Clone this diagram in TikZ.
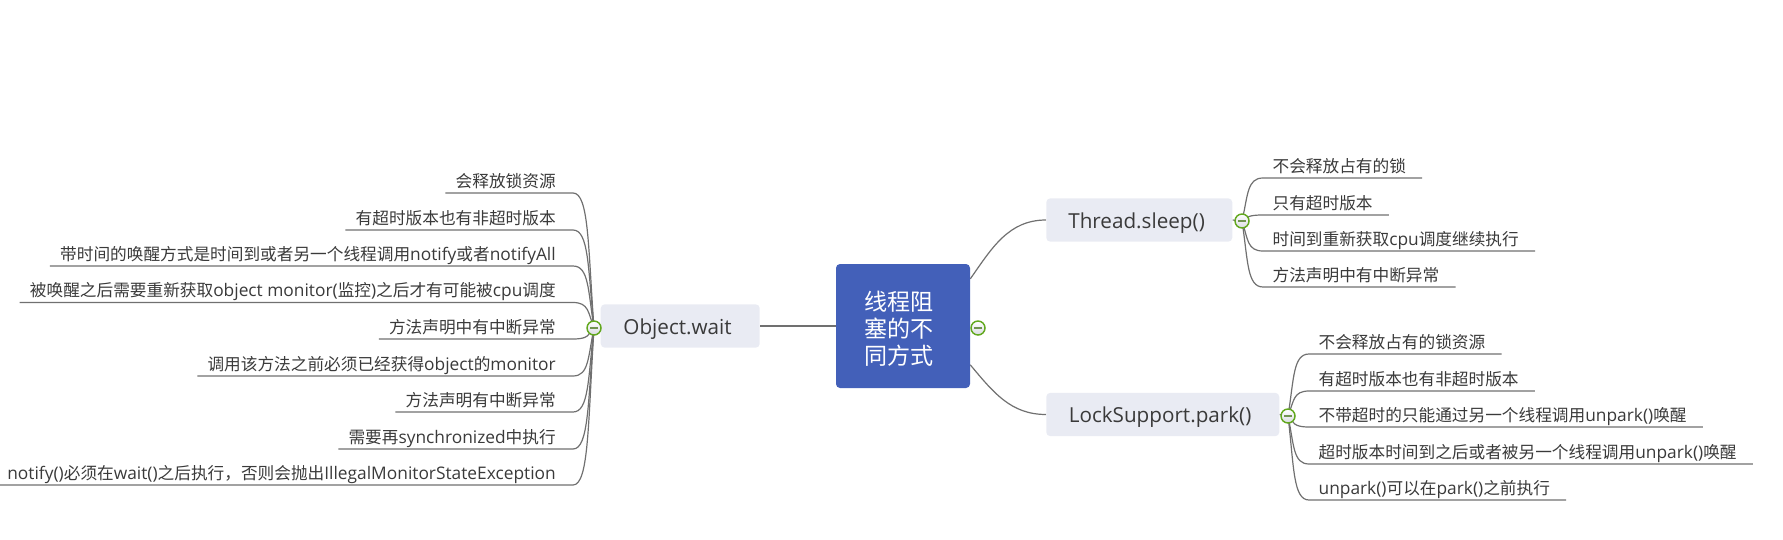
\documentclass[tikz,border=0pt]{standalone}
\usepackage{fontspec}
\setmainfont{Noto Sans CJK SC}
\newfontfamily\lat[Scale=1.04]{Open Sans}
\usetikzlibrary{calc,backgrounds}
\definecolor{hubblue}{HTML}{4360B9}
\definecolor{boxgray}{HTML}{E9EBF3}
\definecolor{inkgray}{HTML}{3A3A3A}
\definecolor{linegray}{HTML}{707070}
\definecolor{knobgreen}{HTML}{62A81E}
\tikzset{
	hub/.style={fill=hubblue,text=white,rounded corners=3pt,minimum width=100.5pt,minimum height=93pt,align=center,font=\fontsize{17.3}{20.4}\selectfont,inner sep=0pt},
	branchbox/.style={fill=boxgray,text=inkgray,rounded corners=3pt,minimum height=32.5pt,inner sep=0pt,anchor=west,text height=14pt,text depth=2pt,font=\fontsize{14.9}{17}\selectfont,execute at end node=\hspace{4pt}},
	leaf/.style={text=inkgray,inner xsep=0pt,inner ysep=0pt,text height=11pt,text depth=4pt,font=\fontsize{12.5}{15}\selectfont},
	leftleaf/.style={leaf,anchor=south east,execute at begin node=\hspace{7.5pt},execute at end node=\hspace{12.75pt}},
	rightleaf/.style={leaf,anchor=south west,execute at begin node=\hspace{7pt},execute at end node=\hspace{12pt}},
	knob/.style={circle,draw=knobgreen,line width=1.1pt,top color=white,bottom color=boxgray!85!gray,minimum size=10.5pt,inner sep=0pt,
		path picture={\draw[line width=1pt,knobgreen!50!gray] ([xshift=-3pt]path picture bounding box.center) -- ([xshift=3pt]path picture bounding box.center);}},
	wire/.style={draw=linegray,line width=0.9pt},
	twig/.style={to path={.. controls ($(\tikztostart)!0.6!(\tikztostart|-\tikztotarget)+(#1*6,0)$) and ($(\tikztotarget)+(-#1*16,0)$) .. (\tikztotarget)}}
}
\begin{document}
\begin{tikzpicture}[x=0.75pt,y=-0.75pt]
	\useasboundingbox (0,0) rectangle (1783,539);
	\node[hub] (hub) at (903,326) {\mbox{\rule{0pt}{19pt}线程阻\kern6pt}\\\mbox{塞的不\kern6pt}\\\mbox{同方式\kern6pt}};
	\node[knob] (hubknob) at (978,328) {};
	% three branches
	\node[branchbox,minimum width=119.25pt,anchor=east] (wait) at (760,326) {{\lat Object.wait}};
	\node[branchbox,minimum width=139.5pt] (sleep) at (1046,220) {{\lat Thread.sleep()}};
	\node[branchbox,minimum width=174.75pt] (park) at (1046,414.5) {{\lat LockSupport.park()}};
	\node[knob] (waitknob) at (594,328) {};
	\node[knob] (sleepknob) at (1242,221) {};
	\node[knob] (parkknob) at (1288,416) {};
	% left side
	\node[leftleaf] (wait1) at (573,193) {会释放锁资源};
	\node[leftleaf] (wait2) at (573,230) {有超时版本也有非超时版本};
	\node[leftleaf] (wait3) at (573,266) {带时间的唤醒方式是时间到或者另一个线程调用{\lat notify}或者{\lat notifyAll}};
	\node[leftleaf] (wait4) at (573,302.5) {被唤醒之后需要重新获取{\lat object monitor(}监控{\lat )}之后才有可能被{\lat cpu}调度};
	\node[leftleaf] (wait5) at (573,339) {方法声明中有中断异常};
	\node[leftleaf] (wait6) at (573,376) {调用该方法之前必须已经获得{\lat object}的{\lat monitor}};
	\node[leftleaf] (wait7) at (573,412) {方法声明有中断异常};
	\node[leftleaf] (wait8) at (573,449) {需要再{\lat synchronized}中执行};
	\node[leftleaf] (wait9) at (573,485) {{\lat notify()}必须在{\lat wait()}之后执行，否则会抛出{\lat IllegalMonitorStateException}};
	% right side, top
	\node[rightleaf] (sleep1) at (1263,178) {不会释放占有的锁};
	\node[rightleaf] (sleep2) at (1263,215) {只有超时版本};
	\node[rightleaf] (sleep3) at (1263,251) {时间到重新获取{\lat cpu}调度继续执行};
	\node[rightleaf] (sleep4) at (1263,287) {方法声明中有中断异常};
	% right side, bottom
	\node[rightleaf] (park1) at (1309,354) {不会释放占有的锁资源};
	\node[rightleaf] (park2) at (1309,391) {有超时版本也有非超时版本};
	\node[rightleaf] (park3) at (1309,427) {不带超时的只能通过另一个线程调用{\lat unpark()}唤醒};
	\node[rightleaf] (park4) at (1309,464) {超时版本时间到之后或者被另一个线程调用{\lat unpark()}唤醒};
	\node[rightleaf] (park5) at (1309,500) {{\lat unpark()}可以在{\lat park()}之前执行};
	\begin{scope}[on background layer,every path/.append style={wire}]
		\draw (wait.east) -- (hub.west);
		\draw (hub.35) to[out=55,in=180] (sleep.west);
		\draw (hub.-30) to[out=-50,in=180] (park.west);
		\draw (sleep.east) -- (sleepknob.center);
		\draw (park.east) -- (parkknob.center);
		\draw (wait.west) -- (waitknob.center);
		\draw (waitknob.center) to[twig=-1] (wait1.south east) -- (wait1.south west);
		\draw (waitknob.center) to[twig=-1] (wait2.south east) -- (wait2.south west);
		\draw (waitknob.center) to[twig=-1] (wait3.south east) -- (wait3.south west);
		\draw (waitknob.center) to[twig=-1] (wait4.south east) -- (wait4.south west);
		\draw (waitknob.center) to[twig=-1] (wait5.south east) -- (wait5.south west);
		\draw (waitknob.center) to[twig=-1] (wait6.south east) -- (wait6.south west);
		\draw (waitknob.center) to[twig=-1] (wait7.south east) -- (wait7.south west);
		\draw (waitknob.center) to[twig=-1] (wait8.south east) -- (wait8.south west);
		\draw (waitknob.center) to[twig=-1] (wait9.south east) -- (wait9.south west);
		\draw (sleepknob.center) to[twig=1] (sleep1.south west) -- (sleep1.south east);
		\draw (sleepknob.center) to[twig=1] (sleep2.south west) -- (sleep2.south east);
		\draw (sleepknob.center) to[twig=1] (sleep3.south west) -- (sleep3.south east);
		\draw (sleepknob.center) to[twig=1] (sleep4.south west) -- (sleep4.south east);
		\draw (parkknob.center) to[twig=1] (park1.south west) -- (park1.south east);
		\draw (parkknob.center) to[twig=1] (park2.south west) -- (park2.south east);
		\draw (parkknob.center) to[twig=1] (park3.south west) -- (park3.south east);
		\draw (parkknob.center) to[twig=1] (park4.south west) -- (park4.south east);
		\draw (parkknob.center) to[twig=1] (park5.south west) -- (park5.south east);
	\end{scope}
\end{tikzpicture}
\end{document}
